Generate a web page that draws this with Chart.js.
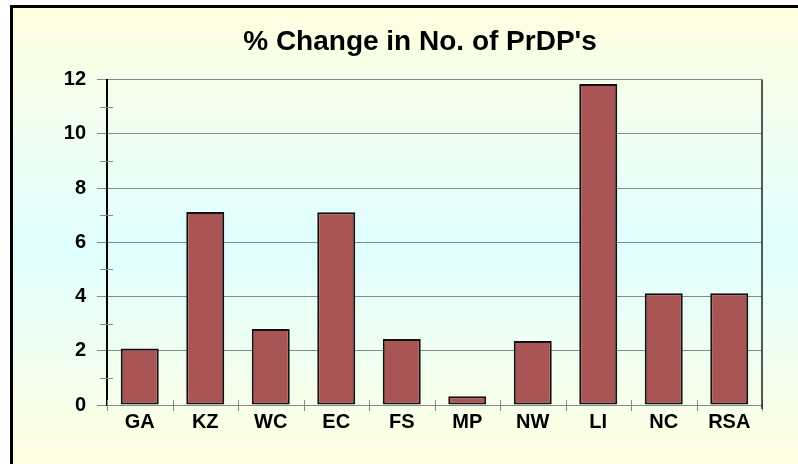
<!DOCTYPE html>
<html>
<head>
<meta charset="utf-8">
<script src="https://cdn.jsdelivr.net/npm/chart.js@4"></script>
<style>
  html, body { margin: 0; padding: 0; background: #fff; }
  #frame {
    position: absolute; left: 10px; top: 5px; width: 788px; height: 459px;
    border-top: 3px solid #000; border-left: 3px solid #000;
    background: linear-gradient(to bottom, #FFFFE0 0%, #E0FFFF 52%, #FFFFE0 100%);
  }
  canvas { position: absolute; left: 0; top: 0; }
</style>
</head>
<body>
<div id="frame"></div>
<canvas id="chart" width="798" height="464"></canvas>
<script>
const FONT = "'Liberation Sans', Arial, sans-serif"
const BAR = '#AA5555'
const GRID = '#888888'

const categories = ['GA', 'KZ', 'WC', 'EC', 'FS', 'MP', 'NW', 'LI', 'NC', 'RSA']
const pctChange = [2.08, 7.12, 2.8, 7.11, 2.43, 0.32, 2.36, 11.84, 4.12, 4.12]
const minorTicks = [1, 3, 5, 7, 9, 11]

Chart.defaults.font.family = FONT
Chart.defaults.color = '#000'

// small ticks crossing the axes and the right edge of the plot
const axisMarks = {
  id: 'axisMarks',
  afterLayout(chart) {
    // title sits a little right of the canvas centre
    if (chart.titleBlock) {
      chart.titleBlock.left += 14
      chart.titleBlock.right += 14
    }
  },
  afterDraw(chart) {
    const { ctx, chartArea } = chart
    const x = chart.scales.x
    const y = chart.scales.y
    ctx.save()
    ctx.strokeStyle = GRID
    ctx.lineWidth = 1
    ctx.beginPath()
    minorTicks.forEach((v) => {
      const py = Math.round(y.getPixelForValue(v)) + 0.5
      ctx.moveTo(chartArea.left - 7, py)
      ctx.lineTo(chartArea.left + 6, py)
    })
    const half = (x.getPixelForValue(1) - x.getPixelForValue(0)) / 2
    for (let i = 0; i <= categories.length; i++) {
      const px = Math.round(x.getPixelForValue(i) - half) + 0.5
      ctx.moveTo(px, chartArea.bottom - 5)
      ctx.lineTo(px, chartArea.bottom + 6)
    }
    ctx.stroke()
    ctx.strokeStyle = '#222'
    ctx.lineWidth = 1.5
    ctx.beginPath()
    ctx.moveTo(chartArea.right, chartArea.top)
    ctx.lineTo(chartArea.right, chartArea.bottom + 4)
    ctx.stroke()
    ctx.restore()
  },
}

new Chart(document.getElementById('chart'), {
  type: 'bar',
  data: {
    labels: categories,
    datasets: [
      {
        data: pctChange,
        backgroundColor: BAR,
        borderColor: '#111',
        borderWidth: 2,
        borderSkipped: false,
        barPercentage: 0.58,
        categoryPercentage: 1,
      },
    ],
  },
  options: {
    responsive: false,
    animation: false,
    layout: { padding: { left: 50, right: 36, top: 10, bottom: 25 } },
    scales: {
      x: {
        grid: { display: true, drawOnChartArea: false, drawTicks: false },
        border: { display: true, color: GRID, width: 1 },
        ticks: { font: { size: 20, weight: 'bold' }, padding: 5, color: '#000' },
      },
      y: {
        min: 0,
        max: 12,
        afterFit: (scale) => { scale.width = 57 },
        grid: { color: GRID, lineWidth: 1, tickLength: 10, tickColor: GRID },
        border: { display: true, color: '#000', width: 2 },
        ticks: { stepSize: 2, font: { size: 20, weight: 'bold' }, padding: 11, color: '#000' },
      },
    },
    plugins: {
      legend: { display: false },
      tooltip: { enabled: false },
      title: {
        display: true,
        text: "% Change in No. of PrDP's",
        color: '#000',
        font: { size: 28, weight: 'bold' },
        padding: { top: 15, bottom: 21 },
      },
    },
  },
  plugins: [axisMarks],
})
</script>
</body>
</html>
